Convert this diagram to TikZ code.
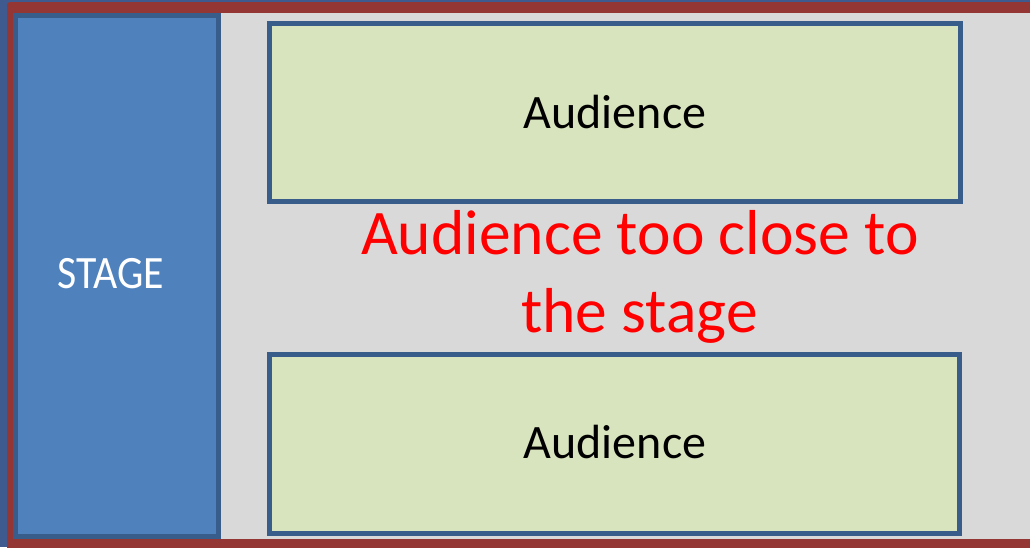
\documentclass[tikz,border=0pt]{standalone}
\usepackage{fontspec}
\setmainfont{Carlito}
\usepackage{graphicx}
\definecolor{edgeblue}{HTML}{3F5A8F}
\definecolor{framered}{HTML}{943634}
\definecolor{bggray}{HTML}{D9D9D9}
\definecolor{stagefill}{HTML}{4F81BD}
\definecolor{boxline}{HTML}{385D8A}
\definecolor{audfill}{HTML}{D7E4BD}
\definecolor{warnred}{HTML}{FF0000}
\tikzset{
  stagebox/.style={draw=boxline, fill=stagefill, line width=5pt, inner sep=0pt, minimum width=203pt, minimum height=521pt},
  audbox/.style={draw=boxline, fill=audfill, line width=5pt, inner sep=0pt},
  lbl/.style={anchor=base, inner sep=0pt, outer sep=0pt},
  audlbl/.style={lbl, font=\fontsize{48}{58}\selectfont},
  warnlbl/.style={lbl, text=warnred, font=\fontsize{63.5}{76}\selectfont},
}
\begin{document}
\begin{tikzpicture}[x=1pt,y=-1pt]
\useasboundingbox (0,0) rectangle (1030,547);
\fill[edgeblue] (0,0) rectangle (1030,547);
\fill[framered, rounded corners=3pt] (7,2) rectangle (1040,557);
\fill[bggray] (13,13) rectangle (1030,539);
\node[stagebox] (stage) at (117,276) {};
\node[audbox, minimum width=691.5pt, minimum height=178pt] (top) at (614.75,112.5) {};
\node[audbox, minimum width=690pt, minimum height=179pt] (bottom) at (614.2,443.7) {};
\node[lbl, text=white] (stagelbl) at (111,288) {\fontsize{41.8}{50}\selectfont\scalebox{1}[1.11]{STAGE}};
\node[audlbl] (toplbl) at (615,128) {Audience};
\node[audlbl] (botlbl) at (615,458) {Audience};
\node[warnlbl] (warn1) at (640,254.3) {Audience too close to};
\node[warnlbl] (warn2) at (639.5,332) {the stage};
\end{tikzpicture}
\end{document}
